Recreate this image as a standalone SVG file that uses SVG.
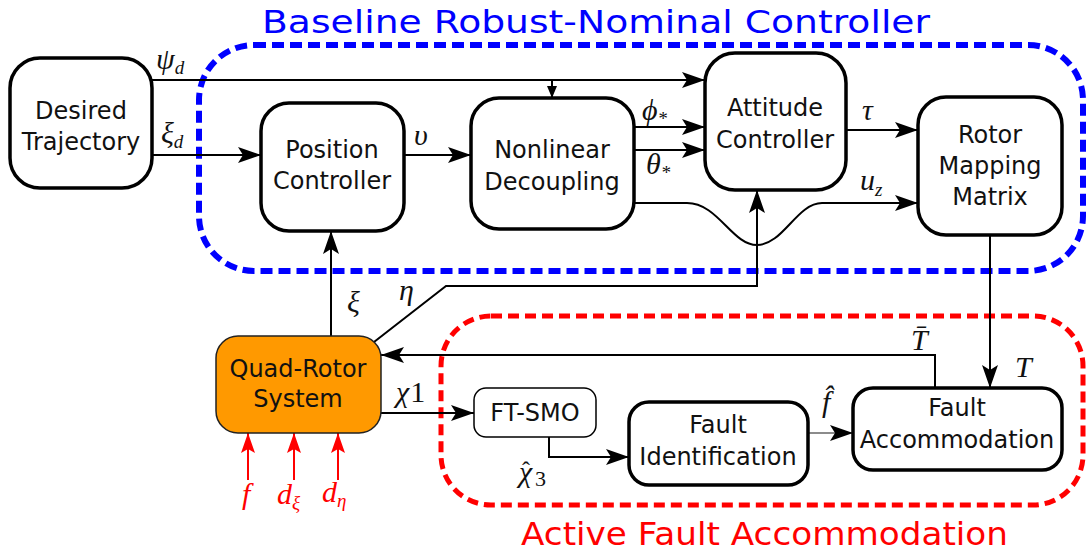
<svg xmlns="http://www.w3.org/2000/svg" width="1089" height="551" viewBox="0 0 1089 551">
<style>
.box{fill:#fff;stroke:#000;stroke-width:3.5}
.thin{fill:#fff;stroke:#000;stroke-width:1.5}
.lbl{font-family:"DejaVu Sans",sans-serif;font-size:24px;fill:#111;text-anchor:middle}
.math{font-family:"Liberation Serif","DejaVu Serif",serif;font-style:italic;font-size:30px;fill:#111}
.mred{font-family:"Liberation Serif","DejaVu Serif",serif;font-style:italic;font-size:30px;fill:#f00}
.sub{font-size:19px}
.ln{fill:none;stroke:#000;stroke-width:2}
.rl{fill:none;stroke:#f00;stroke-width:2}
</style>
<defs>
<marker id="ah" markerUnits="userSpaceOnUse" markerWidth="26" markerHeight="18" refX="23" refY="8" orient="auto"><path d="M0,0 L23,8 L0,16 L5,8 z" fill="#000"/></marker>
<marker id="ahs" markerUnits="userSpaceOnUse" markerWidth="14" markerHeight="12" refX="12" refY="5" orient="auto"><path d="M0,0 L12,5 L0,10 z" fill="#000"/></marker>
<marker id="ahr" markerUnits="userSpaceOnUse" markerWidth="22" markerHeight="16" refX="20" refY="7" orient="auto"><path d="M0,0 L20,7 L0,14 L4,7 z" fill="#f00"/></marker>
</defs>
<rect width="1089" height="551" fill="#fff"/>

<g id="group-baseline">
<rect x="199" y="45" width="884" height="226" rx="55" fill="none" stroke="#00f" stroke-width="6" stroke-dasharray="12,6"/>
<text x="262" y="33" font-family="DejaVu Sans,sans-serif" font-size="32" fill="#00f" textLength="668" lengthAdjust="spacingAndGlyphs">Baseline Robust-Nominal Controller</text>
</g>
<g id="group-fault">
<rect x="441" y="316" width="642" height="189" rx="50" fill="none" stroke="#f00" stroke-width="5" stroke-dasharray="11,6"/>
<text x="521" y="545" font-family="DejaVu Sans,sans-serif" font-size="32" fill="#f00" textLength="487" lengthAdjust="spacingAndGlyphs">Active Fault Accommodation</text>
</g>

<g id="connectors">
<path class="ln" d="M152,80 L705,80" marker-end="url(#ah)"/>
<path class="ln" d="M552,80 L552,98" marker-end="url(#ahs)"/>
<path class="ln" d="M152,155 L261,155" marker-end="url(#ah)"/>
<path class="ln" d="M404,155 L471,155" marker-end="url(#ah)"/>
<path class="ln" d="M634,127 L705,127" marker-end="url(#ah)"/>
<path class="ln" d="M634,150 L705,150" marker-end="url(#ah)"/>
<path class="ln" d="M634,203 L687,203 C718,203 732,245 757,245 C783,245 797,203 822,203 L918,203" marker-end="url(#ah)"/>
<path class="ln" d="M846,130 L918,130" marker-end="url(#ah)"/>
<path class="ln" d="M331,336 L331,231" marker-end="url(#ah)"/>
<path class="ln" d="M374,342 L446,286 L757,286 L757,190" marker-end="url(#ah)"/>
<path class="ln" d="M935,388 L935,355 L381,355" marker-end="url(#ah)"/>
<path class="ln" d="M990,235 L990,388" marker-end="url(#ah)"/>
<path class="ln" d="M381,413 L474,413" marker-end="url(#ah)"/>
<path class="ln" d="M549,437 L549,457 L629,457" marker-end="url(#ah)"/>
<path class="ln" d="M808,433 L853,433" style="stroke:#666;stroke-width:1.5" marker-end="url(#ah)"/>
<path class="rl" d="M248,480 L248,433" marker-end="url(#ahr)"/>
<path class="rl" d="M294,480 L294,433" marker-end="url(#ahr)"/>
<path class="rl" d="M338,480 L338,433" marker-end="url(#ahr)"/>
</g>

<g id="labels">
<text class="math" x="156" y="69">ψ<tspan class="sub" dy="5">d</tspan></text>
<text class="math" x="161" y="143">ξ<tspan class="sub" dy="5">d</tspan></text>
<text class="math" x="414" y="145">υ</text>
<text class="math" x="642" y="120">ϕ<tspan class="sub" dy="5">*</tspan></text>
<text class="math" x="646" y="174">θ<tspan class="sub" dy="5">*</tspan></text>
<text class="math" x="862" y="120">τ</text>
<text class="math" x="860" y="190">u<tspan class="sub" dy="6">z</tspan></text>
<text class="math" x="347" y="312">ξ</text>
<text class="math" x="399" y="300">η</text>
<text class="math" x="396" y="402">χ<tspan font-style="normal" dx="1">1</tspan></text>
<text class="math" x="911" y="350">T̄</text>
<text class="math" x="1015" y="377">T</text>
<text class="math" x="822" y="412">f̂</text>
<text class="math" x="519" y="482">χ<tspan x="522" y="478" font-style="normal" font-size="24">ˆ</tspan><tspan x="535" y="486" font-style="normal" font-size="22">3</tspan></text>
<text class="mred" x="242" y="504">f</text>
<text class="mred" x="277" y="504">d<tspan class="sub" dy="5">ξ</tspan></text>
<text class="mred" x="322" y="502">d<tspan class="sub" dy="5">η</tspan></text>
</g>

<g id="node-desired"><rect class="box" x="10" y="58" width="142" height="130" rx="30"/><text class="lbl" x="81" y="119">Desired</text><text class="lbl" x="81" y="150">Trajectory</text></g>
<g id="node-position"><rect class="box" x="261" y="103" width="143" height="128" rx="28"/><text class="lbl" x="332" y="158">Position</text><text class="lbl" x="332" y="189">Controller</text></g>
<g id="node-nonlinear"><rect class="box" x="471" y="98" width="163" height="131" rx="28"/><text class="lbl" x="552" y="158">Nonlinear</text><text class="lbl" x="552" y="190">Decoupling</text></g>
<g id="node-attitude"><rect class="box" x="705" y="53" width="141" height="137" rx="30"/><text class="lbl" x="775" y="116">Attitude</text><text class="lbl" x="775" y="148">Controller</text></g>
<g id="node-rotor"><rect class="box" x="918" y="97" width="144" height="138" rx="28"/><text class="lbl" x="990" y="143">Rotor</text><text class="lbl" x="990" y="174">Mapping</text><text class="lbl" x="990" y="205">Matrix</text></g>
<g id="node-quad"><rect x="216" y="336" width="165" height="97" rx="22" fill="#ff9900" stroke="#222" stroke-width="1.5"/><text class="lbl" x="298" y="377">Quad-Rotor</text><text class="lbl" x="298" y="407">System</text></g>
<g id="node-ftsmo"><rect class="thin" x="474" y="388" width="122" height="49" rx="12"/><text class="lbl" x="535" y="421">FT-SMO</text></g>
<g id="node-faultid"><rect class="box" x="629" y="402" width="179" height="83" rx="20"/><text class="lbl" x="718" y="433">Fault</text><text class="lbl" x="718" y="465">Identification</text></g>
<g id="node-faultacc"><rect class="box" x="853" y="388" width="209" height="82" rx="20"/><text class="lbl" x="957" y="416">Fault</text><text class="lbl" x="957" y="448">Accommodation</text></g>
</svg>
